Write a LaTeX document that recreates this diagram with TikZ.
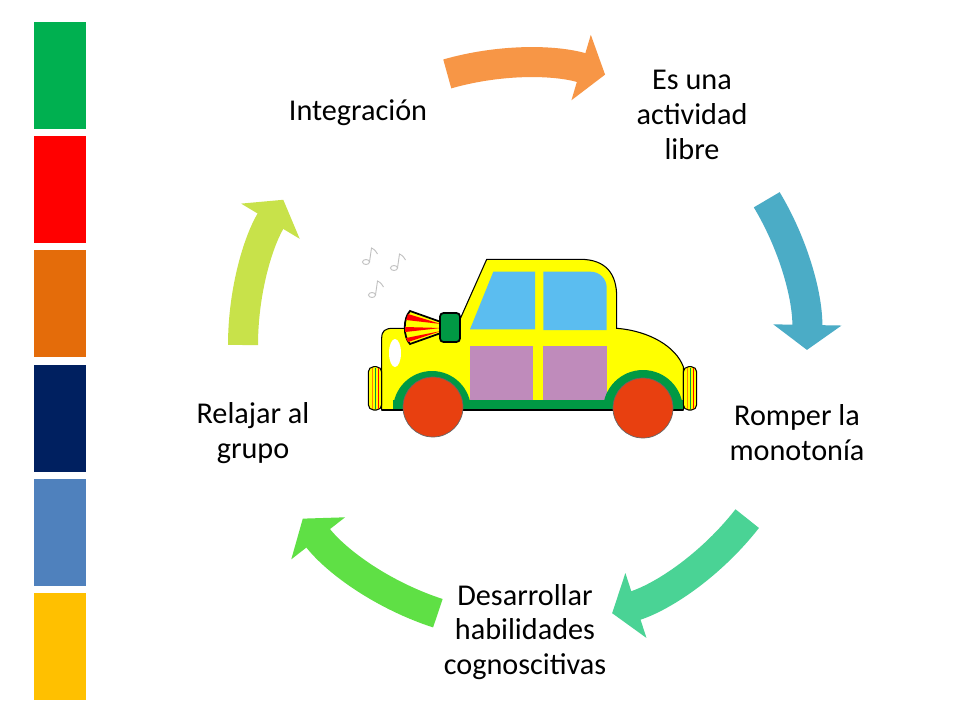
\documentclass[tikz,border=0pt]{standalone}
\usepackage{fontspec}
\setmainfont{Carlito}
\usetikzlibrary{arrows.meta,calc}

\definecolor{barGreen}{HTML}{00B050}
\definecolor{barRed}{HTML}{FF0000}
\definecolor{barOrange}{HTML}{E46C0A}
\definecolor{barNavy}{HTML}{002060}
\definecolor{barBlue}{HTML}{4F81BD}
\definecolor{barYellow}{HTML}{FFC000}
\definecolor{arOrange}{HTML}{F79646}
\definecolor{arBlue}{HTML}{4BACC6}
\definecolor{arTeal}{HTML}{4AD395}
\definecolor{arGreen}{HTML}{5FE045}
\definecolor{arLime}{HTML}{C8E24A}
\definecolor{carYellow}{HTML}{FFFF00}
\definecolor{carGreen}{HTML}{009944}
\definecolor{carWindow}{HTML}{5BBDF0}
\definecolor{carDoor}{HTML}{BF8BBB}
\definecolor{carWheel}{HTML}{E84010}

\tikzset{
  cyclabel/.style={align=center, inner sep=0pt, font=\fontsize{17.2}{19.8}\selectfont},
  cycarrow/.style={line width=0.6cm, -{Triangle[width=1.34cm, length=0.5cm]}},
  carline/.style={draw=black, line width=0.6pt},
  notes/.style={draw=black!25, line width=0.5pt}
}

\begin{document}
\begin{tikzpicture}[x=0.02cm, y=-0.02cm]

  \fill[white] (0,0) rectangle (960,720);
  \useasboundingbox (0,0) rectangle (960,720);

  % colour bars
  \foreach \col [count=\i] in {barGreen,barRed,barOrange,barNavy,barBlue,barYellow}
    \fill[\col] (34,{22+(\i-1)*114.2}) rectangle ++(52,106.9);

  % cycle
  \coordinate (c) at (525,345);

  \node[cyclabel] (integracion) at (358,113) {Integración};
  \node[cyclabel] (libre) at (692,115) {Es una\\actividad\\libre};
  \node[cyclabel] (monotonia) at (797,433) {Romper la\\monotonía};
  \node[cyclabel] (habilidades) at (525,632) {Desarrollar\\habilidades\\cognoscitivas};
  \node[cyclabel] (relajar) at (253,433) {Relajar al\\grupo};

  \draw[cycarrow, arOrange] ($(c)+(-106:282)$) arc[start angle=-106, end angle=-73.5, radius=282];
  \draw[cycarrow, arBlue] ($(c)+(-31:282)$) arc[start angle=-31, end angle=1, radius=282];
  \draw[cycarrow, arTeal] ($(c)+(38:282)$) arc[start angle=38, end angle=72, radius=282];
  \draw[cycarrow, arGreen] ($(c)+(108:282)$) arc[start angle=108, end angle=142, radius=282];
  \draw[cycarrow, arLime] ($(c)+(180:282)$) arc[start angle=180, end angle=211, radius=282];

  % car
  \filldraw[fill=carYellow, carline] (381.7,410) -- (381.7,338)
    .. controls (381.7,331) and (385,328.3) .. (393,328.3) -- (456,328.3)
    -- (486.7,259.3) -- (580,259.3)
    .. controls (607,259.3) and (616.7,275) .. (616.7,297) -- (616.7,328.3)
    .. controls (650,331) and (676,347) .. (683.3,366.7) -- (683.3,410) -- cycle;
  \fill[carWindow] (470,329.3) -- (493.3,271.7) -- (535,271.7) -- (535,329.3) -- cycle;
  \fill[carWindow] (543.3,330) -- (543.3,271.7) -- (590.7,271.7)
    arc[start angle=-90, end angle=0, radius=16] -- (606.7,330) -- cycle;
  \fill[carDoor] (470,346) rectangle (533.3,400.7);
  \fill[carDoor] (543.3,346) rectangle (606.7,400.7);
  \fill[carGreen] (393,400) rectangle (683,410);
  \fill[carGreen] (393,410) arc[start angle=-180, end angle=0, radius=39];
  \fill[carGreen] (603,410) arc[start angle=-180, end angle=0, radius=40];
  \draw[carline] (381.7,410) -- (683.3,410);
  \filldraw[fill=carWheel, draw=black!60, line width=0.4pt] (433,407) circle[radius=30];
  \filldraw[fill=carWheel, draw=black!60, line width=0.4pt] (643,408) circle[radius=30];
  \fill[white] (395,353) ellipse[x radius=6, y radius=14];

  % bumpers
  \foreach \bx in {368.3,683.3} {
    \filldraw[fill=carYellow, carline, rounded corners=3] (\bx,366.7) rectangle ++(13.4,43.3);
    \draw[orange, line width=0.8pt] (\bx+4,368) -- (\bx+4,409);
    \draw[carGreen, line width=0.8pt] (\bx+7,368) -- (\bx+7,409);
    \draw[red, line width=0.8pt] (\bx+10,368) -- (\bx+10,409);
  }

  % horn
  \filldraw[fill=carYellow, draw=black, line width=1pt] (441,322) -- (410,311)
    .. controls (403,318) and (403,337) .. (410,344) -- (441,333) -- cycle;
  \fill[red] (441,324) -- (408,314) -- (406,320) -- cycle;
  \fill[red] (441,328) -- (405,327) -- (405,332) -- cycle;
  \fill[red] (441,331) -- (406,338) -- (408,342) -- cycle;
  \filldraw[fill=carGreen, draw=black, line width=1pt, rounded corners=2] (440,313) rectangle (460,342);

  % notes
  \foreach \nx/\ny in {366/262, 394/268, 372/295} {
    \draw[notes] (\nx,\ny) ellipse[x radius=3.5, y radius=2.5];
    \draw[notes] (\nx+3.5,\ny) -- ++(2,-14) .. controls ++(4,2) and ++(-2,-3) .. ++(6,6);
  }

\end{tikzpicture}
\end{document}
